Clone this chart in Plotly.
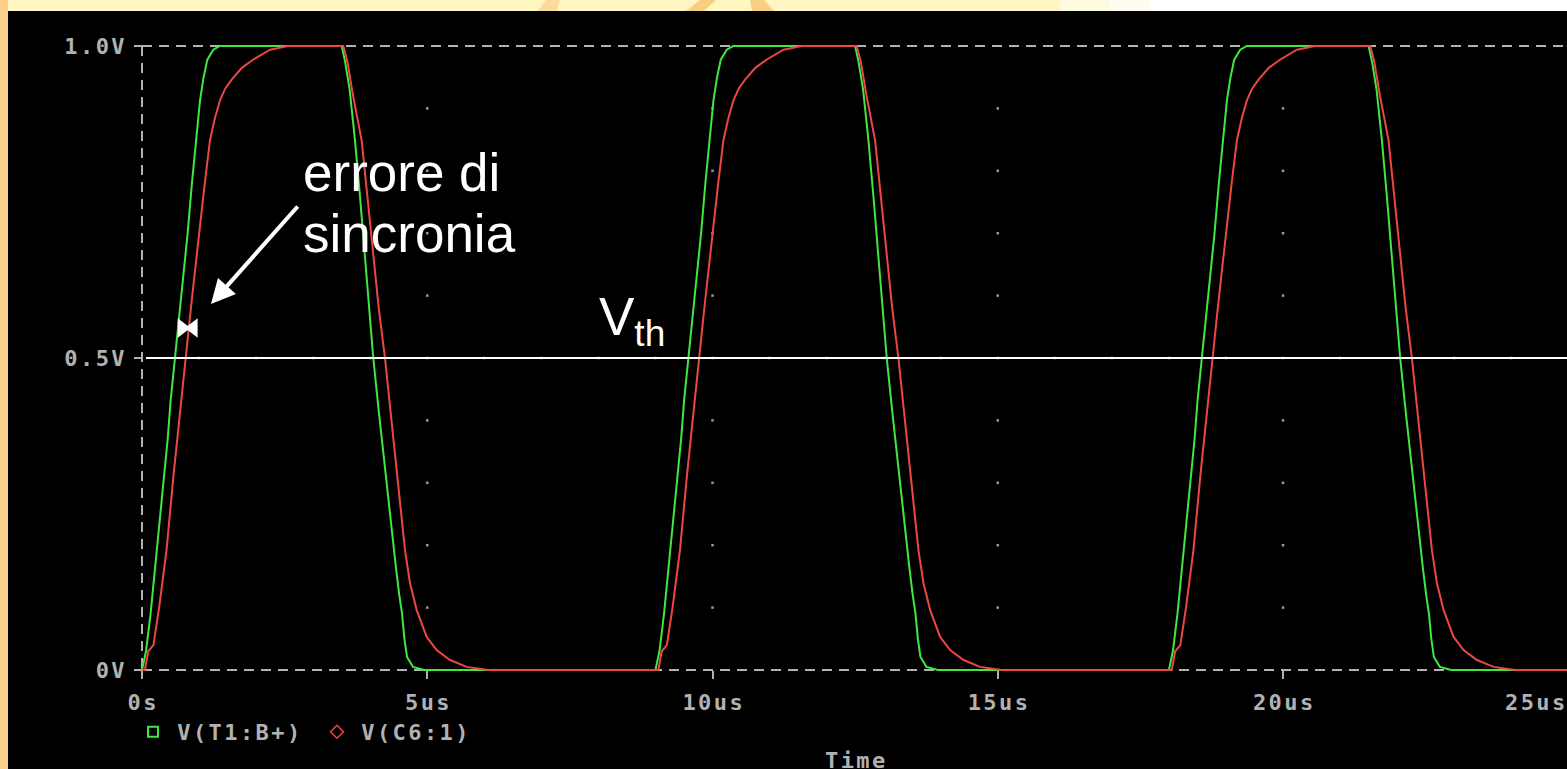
import plotly.graph_objects as go

# ---- waveform data (one pulse, time in us relative to pulse start, value in V) ----
PULSE_STARTS_US = [0, 9, 18]
T_END_US = 24.978

GREEN_T = [0, 0.07, 0.15, 0.25, 0.35, 0.45, 0.503, 0.578, 0.65, 0.724, 0.8, 0.875,
           0.946, 1.017, 1.08, 1.145, 1.25, 1.367,
           3.5, 3.56, 3.64, 3.733, 3.82, 3.9, 3.98, 4.054, 4.15, 4.25, 4.35, 4.45,
           4.51, 4.557, 4.6, 4.645, 4.75, 4.95]
GREEN_V = [0, 0.03, 0.09, 0.18, 0.27, 0.37, 0.433, 0.5, 0.563, 0.625, 0.7, 0.78,
           0.849, 0.913, 0.95, 0.978, 0.994, 1.0,
           1.0, 0.975, 0.93, 0.849, 0.76, 0.67, 0.58, 0.5, 0.415, 0.33, 0.245, 0.165,
           0.12, 0.091, 0.05, 0.021, 0.005, 0]

RED_T = [0, 0.05, 0.11, 0.2, 0.3, 0.43, 0.55, 0.684, 0.766, 0.84, 0.911, 1.0, 1.1,
         1.192, 1.28, 1.367, 1.46, 1.572, 1.75, 1.946, 2.244, 2.56,
         3.528, 3.6, 3.7, 3.85, 3.95, 4.05, 4.15, 4.259, 4.35, 4.45, 4.53, 4.61,
         4.698, 4.815, 4.99, 5.165, 5.4, 5.69, 6.07]
RED_V = [0, 0, 0.03, 0.04, 0.1, 0.192, 0.31, 0.433, 0.5, 0.565, 0.625, 0.7, 0.78,
         0.849, 0.885, 0.913, 0.932, 0.946, 0.965, 0.978, 0.994, 1.0,
         1.0, 0.975, 0.92, 0.849, 0.76, 0.67, 0.58, 0.5, 0.42, 0.34, 0.27, 0.192,
         0.139, 0.096, 0.053, 0.032, 0.016, 0.005, 0]

GREEN_NAME = "V(T1:B+)"
RED_NAME = "V(C6:1)"

X_TICKS = [0, 5, 10, 15, 20]
X_TICK_TEXT = ["0s", "5us", "10us", "15us", "20us"]
X_LAST_LABEL = "25us"
Y_TICKS = [0, 0.5, 1.0]
Y_TICK_TEXT = ["0V", "0.5V", "1.0V"]
X_MINOR = list(range(1, 25))
Y_MINOR = [0.1, 0.2, 0.3, 0.4, 0.6, 0.7, 0.8, 0.9]
VTH = 0.5

# ---- geometry (pixels) ----
W, H = 1567, 769
ML, MR, MT, MB = 8, 0, 11, 0
PW, PH = W - ML - MR, H - MT - MB
X0_PX, Y0_PX = 142, 670        # where t=0 and v=0 sit
PX_PER_US, PX_PER_V = 57.05, 624.0

x_range = [(ML - X0_PX) / PX_PER_US, (W - MR - X0_PX) / PX_PER_US]
y_range = [(Y0_PX - (H - MB)) / PX_PER_V, (Y0_PX - MT) / PX_PER_V]

GREEN = "#3FE83F"
RED = "#EC4646"
GRAY = "#B2B2B2"
MONO = "DejaVu Sans Mono"
SANS = "Liberation Sans"

GAP = '<span style="font-size:4px">\u00a0</span>'


def mono(s, lead=""):
    """Wide-spaced bold monospace text, like a simulator's screen font."""
    return "<b>" + lead + GAP.join(s) + "</b>"


def periodic(ts, vs):
    xs, ys = [], []
    for s in PULSE_STARTS_US:
        xs += [s + t for t in ts]
        ys += vs
    xs.append(T_END_US)
    ys.append(vs[-1])
    return xs, ys


gx, gy = periodic(GREEN_T, GREEN_V)
rx, ry = periodic(RED_T, RED_V)

fig = go.Figure()

# dotted grid: minor steps along the major grid lines
dot_x = [x for x in X_TICKS[1:] for _ in Y_MINOR] + X_MINOR
dot_y = [y for _ in X_TICKS[1:] for y in Y_MINOR] + [VTH] * len(X_MINOR)
fig.add_trace(go.Scatter(x=dot_x, y=dot_y, mode="markers",
                         marker=dict(color="#9A9A9A", size=2.5, symbol="square"),
                         hoverinfo="skip", showlegend=False))

fig.add_trace(go.Scatter(x=gx, y=gy, mode="lines", line=dict(color=GREEN, width=2),
                         showlegend=False, hoverinfo="skip"))
fig.add_trace(go.Scatter(x=rx, y=ry, mode="lines", line=dict(color=RED, width=2),
                         showlegend=False, hoverinfo="skip"))

# legend entries
lead = '<span style="font-size:7px">\u00a0</span>'
fig.add_trace(go.Scatter(x=[None], y=[None], mode="markers", name=mono(GREEN_NAME, lead),
                         marker=dict(symbol="square-open", size=10, color=GREEN,
                                     line=dict(width=2, color=GREEN))))
fig.add_trace(go.Scatter(x=[None], y=[None], mode="markers", name=mono(RED_NAME, lead),
                         marker=dict(symbol="diamond-open", size=10, color=RED,
                                     line=dict(width=1.5, color=RED))))

# bow-tie marker on the threshold crossing gap
fig.add_trace(go.Scatter(x=[(182.0 - X0_PX) / PX_PER_US, (193.4 - X0_PX) / PX_PER_US],
                         y=[(Y0_PX - 328) / PX_PER_V] * 2, mode="markers",
                         marker=dict(symbol=["triangle-right", "triangle-left"], size=17,
                                     color="white", line=dict(width=0)),
                         hoverinfo="skip", showlegend=False, cliponaxis=False))

dash = "10px,7px"
top = 1 + MT / PH
shapes = [
    # page decoration outside the plot window
    dict(type="rect", xref="paper", yref="paper", x0=-ML / PW, x1=0, y0=-0.01, y1=top,
         fillcolor="#FCD08A", line=dict(width=0), layer="below"),
    dict(type="rect", xref="paper", yref="paper", x0=(1060 - ML) / PW, x1=(1110 - ML) / PW,
         y0=1, y1=top, fillcolor="#FFFBE0", line=dict(width=0), layer="below"),
    dict(type="rect", xref="paper", yref="paper", x0=(1110 - ML) / PW, x1=(1150 - ML) / PW,
         y0=1, y1=top, fillcolor="#FFFDF0", line=dict(width=0), layer="below"),
    dict(type="rect", xref="paper", yref="paper", x0=(1150 - ML) / PW, x1=1.0,
         y0=1, y1=top, fillcolor="white", line=dict(width=0), layer="below"),
    dict(type="path", xref="paper", yref="paper",
         path=f"M {(538 - ML) / PW},1 L {(546 - ML) / PW},{top} "
              f"L {(560 - ML) / PW},{top} L {(556 - ML) / PW},1 Z",
         fillcolor="#FADB9A", line=dict(width=0), layer="below"),
    dict(type="path", xref="paper", yref="paper",
         path=f"M {(686 - ML) / PW},1 L {(700 - ML) / PW},{top} "
              f"L {(716 - ML) / PW},{top} L {(704 - ML) / PW},1 Z",
         fillcolor="#F8CF80", line=dict(width=0), layer="below"),
    dict(type="path", xref="paper", yref="paper",
         path=f"M {(752 - ML) / PW},1 L {(750 - ML) / PW},{top} "
              f"L {(764 - ML) / PW},{top} L {(774 - ML) / PW},1 Z",
         fillcolor="#F8CF80", line=dict(width=0), layer="below"),
    # dashed frame lines
    dict(type="line", xref="x", yref="y", x0=0, x1=T_END_US, y0=1.0, y1=1.0,
         line=dict(color=GRAY, width=2, dash=dash), layer="below"),
    dict(type="line", xref="x", yref="y", x0=0, x1=T_END_US, y0=0, y1=0,
         line=dict(color=GRAY, width=2, dash=dash), layer="below"),
    dict(type="line", xref="x", yref="y", x0=0, x1=0, y0=1.0, y1=0,
         line=dict(color=GRAY, width=2, dash=dash), layer="below"),
    # threshold line
    dict(type="line", xref="x", yref="y", x0=4 / PX_PER_US, x1=T_END_US, y0=VTH, y1=VTH,
         line=dict(color="white", width=2), layer="above"),
]

tick_font = dict(family=MONO, size=22, color=GRAY)
big = dict(family=SANS, size=53, color="white")

annotations = [
    dict(x=(1503 - X0_PX) / PX_PER_US, y=(Y0_PX - 702) / PX_PER_V, xref="x", yref="y",
         text=mono(X_LAST_LABEL), showarrow=False, xanchor="left", yanchor="middle",
         font=tick_font),
    dict(x=12.5, y=(Y0_PX - 760) / PX_PER_V, xref="x", yref="y", text=mono("Time"),
         showarrow=False, xanchor="center", yanchor="middle", font=tick_font),
    dict(x=(301 - X0_PX) / PX_PER_US, y=(Y0_PX - 172) / PX_PER_V, xref="x", yref="y",
         text="errore di", showarrow=False, xanchor="left", yanchor="middle", font=big),
    dict(x=(301 - X0_PX) / PX_PER_US, y=(Y0_PX - 233) / PX_PER_V, xref="x", yref="y",
         text="sincronia", showarrow=False, xanchor="left", yanchor="middle", font=big),
    dict(x=(597 - X0_PX) / PX_PER_US, y=(Y0_PX - 320) / PX_PER_V, xref="x", yref="y",
         text="V<sub>th</sub>", showarrow=False, xanchor="left", yanchor="middle",
         font=big),
    dict(x=(211 - X0_PX) / PX_PER_US, y=(Y0_PX - 304) / PX_PER_V, xref="x", yref="y",
         ax=88, ay=-99, text="", showarrow=True, arrowhead=2, arrowsize=1.2,
         arrowwidth=4, arrowcolor="white", standoff=0),
]

fig.update_layout(
    width=W, height=H,
    margin=dict(l=ML, r=MR, t=MT, b=MB, pad=0),
    paper_bgcolor="#FFF6C2",
    plot_bgcolor="black",
    shapes=shapes,
    annotations=annotations,
    showlegend=True,
    legend=dict(orientation="h", x=(133 - ML) / PW, y=1 - (732 - MT) / PH,
                xanchor="left", yanchor="middle", bgcolor="rgba(0,0,0,0)",
                entrywidth=139, entrywidthmode="pixels",
                font=dict(family=MONO, size=22, color=GRAY), itemclick=False),
    xaxis=dict(range=x_range, anchor="free", position=(H - MB - Y0_PX) / PH,
               tickvals=X_TICKS, ticktext=[mono(t) for t in X_TICK_TEXT],
               ticks="outside", ticklen=8, tickwidth=2, tickcolor=GRAY,
               ticklabelstandoff=5,
               tickfont=tick_font, showgrid=False, zeroline=False, showline=False,
               fixedrange=True),
    yaxis=dict(range=y_range, anchor="free", position=(X0_PX - ML) / PW,
               tickvals=Y_TICKS, ticktext=[mono(t) for t in Y_TICK_TEXT],
               ticks="outside", ticklen=8, tickwidth=2, tickcolor=GRAY,
               ticklabelstandoff=5,
               tickfont=tick_font, showgrid=False, zeroline=False, showline=False,
               fixedrange=True),
)

fig.write_html("out.html", config={"displayModeBar": False})
